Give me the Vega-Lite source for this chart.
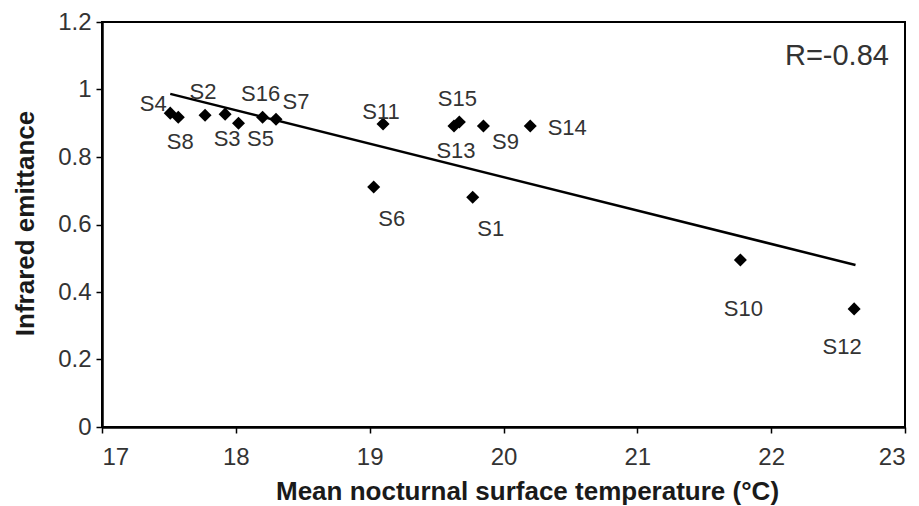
{
  "$schema": "https://vega.github.io/schema/vega-lite/v6.json",
  "autosize": {"type": "none"},
  "width": 803,
  "height": 405,
  "padding": {"left": 102, "top": 22, "right": 14, "bottom": 79},
  "background": "white",
  "config": {
    "font": "Liberation Sans",
    "view": {"stroke": "black", "strokeWidth": 2},
    "axis": {
      "grid": false,
      "domainColor": "black",
      "domainWidth": 2.5,
      "tickColor": "black",
      "tickWidth": 1.5,
      "tickSize": 6,
      "labelFont": "Liberation Sans",
      "labelFontSize": 24,
      "labelColor": "#333",
      "titleFont": "Liberation Sans",
      "titleFontSize": 26,
      "titleFontWeight": "bold",
      "titleColor": "#1a1a1a"
    }
  },
  "datasets": {
    "pts": [
      {"site": "S4", "temp": 17.51, "emit": 0.930},
      {"site": "S8", "temp": 17.57, "emit": 0.918},
      {"site": "S2", "temp": 17.77, "emit": 0.924},
      {"site": "S3", "temp": 17.92, "emit": 0.927},
      {"site": "S5", "temp": 18.02, "emit": 0.900},
      {"site": "S16", "temp": 18.20, "emit": 0.918},
      {"site": "S7", "temp": 18.30, "emit": 0.912},
      {"site": "S11", "temp": 19.10, "emit": 0.898},
      {"site": "S6", "temp": 19.03, "emit": 0.711},
      {"site": "S15", "temp": 19.67, "emit": 0.904},
      {"site": "S13", "temp": 19.63, "emit": 0.892},
      {"site": "S9", "temp": 19.85, "emit": 0.892},
      {"site": "S14", "temp": 20.20, "emit": 0.892},
      {"site": "S1", "temp": 19.77, "emit": 0.681},
      {"site": "S10", "temp": 21.77, "emit": 0.495},
      {"site": "S12", "temp": 22.62, "emit": 0.350}
    ],
    "fit": [
      {"temp": 17.51, "emit": 0.987},
      {"temp": 22.63, "emit": 0.480}
    ],
    "note": [
      {"temp": 22.88, "emit": 1.10, "text": "R=-0.84"}
    ]
  },
  "layer": [
    {
      "data": {"name": "fit"},
      "mark": {"type": "line", "color": "black", "strokeWidth": 2.5},
      "encoding": {
        "x": {"field": "temp", "type": "quantitative", "scale": {"domain": [17, 23], "nice": false, "zero": false},
              "axis": {"values": [17, 18, 19, 20, 21, 22, 23], "format": "~g", "title": "Mean nocturnal surface temperature (°C)", "titleX": 425, "titleY": 72, "titleBaseline": "alphabetic", "labelPadding": 12}},
        "y": {"field": "emit", "type": "quantitative", "scale": {"domain": [0, 1.2], "nice": false},
              "axis": {"values": [0, 0.2, 0.4, 0.6, 0.8, 1, 1.2], "format": "~g", "title": "Infrared emittance", "titleX": -69, "titleY": 201, "titleBaseline": "alphabetic", "labelPadding": 5}}
      }
    },
    {
      "data": {"name": "pts"},
      "mark": {"type": "point", "shape": "diamond", "filled": true, "color": "black", "opacity": 1, "size": 170},
      "encoding": {
        "x": {"field": "temp", "type": "quantitative"},
        "y": {"field": "emit", "type": "quantitative"}
      }
    },
    {
      "data": {"name": "pts"},
      "transform": [{"filter": {"field": "site", "oneOf": ["S2", "S16", "S15"]}}],
      "mark": {"type": "text", "fontSize": 22, "color": "#333", "dx": -2, "dy": -23},
      "encoding": {"x": {"field": "temp", "type": "quantitative"}, "y": {"field": "emit", "type": "quantitative"}, "text": {"field": "site"}}
    },
    {
      "data": {"name": "pts"},
      "transform": [{"filter": {"field": "site", "oneOf": ["S8", "S3", "S13"]}}],
      "mark": {"type": "text", "fontSize": 22, "color": "#333", "dx": 2, "dy": 25},
      "encoding": {"x": {"field": "temp", "type": "quantitative"}, "y": {"field": "emit", "type": "quantitative"}, "text": {"field": "site"}}
    },
    {
      "data": {"name": "pts"},
      "transform": [{"filter": {"field": "site", "oneOf": ["S5", "S9"]}}],
      "mark": {"type": "text", "fontSize": 22, "color": "#333", "dx": 22, "dy": 16},
      "encoding": {"x": {"field": "temp", "type": "quantitative"}, "y": {"field": "emit", "type": "quantitative"}, "text": {"field": "site"}}
    },
    {
      "data": {"name": "pts"},
      "transform": [{"filter": {"field": "site", "oneOf": ["S6", "S1"]}}],
      "mark": {"type": "text", "fontSize": 22, "color": "#333", "dx": 18, "dy": 32},
      "encoding": {"x": {"field": "temp", "type": "quantitative"}, "y": {"field": "emit", "type": "quantitative"}, "text": {"field": "site"}}
    },
    {
      "data": {"name": "pts"},
      "transform": [{"filter": {"field": "site", "equal": "S4"}}],
      "mark": {"type": "text", "fontSize": 22, "color": "#333", "dx": -17, "dy": -9},
      "encoding": {"x": {"field": "temp", "type": "quantitative"}, "y": {"field": "emit", "type": "quantitative"}, "text": {"field": "site"}}
    },
    {
      "data": {"name": "pts"},
      "transform": [{"filter": {"field": "site", "equal": "S7"}}],
      "mark": {"type": "text", "fontSize": 22, "color": "#333", "dx": 20, "dy": -17},
      "encoding": {"x": {"field": "temp", "type": "quantitative"}, "y": {"field": "emit", "type": "quantitative"}, "text": {"field": "site"}}
    },
    {
      "data": {"name": "pts"},
      "transform": [{"filter": {"field": "site", "equal": "S11"}}],
      "mark": {"type": "text", "fontSize": 22, "color": "#333", "dx": -2, "dy": -12},
      "encoding": {"x": {"field": "temp", "type": "quantitative"}, "y": {"field": "emit", "type": "quantitative"}, "text": {"field": "site"}}
    },
    {
      "data": {"name": "pts"},
      "transform": [{"filter": {"field": "site", "equal": "S14"}}],
      "mark": {"type": "text", "fontSize": 22, "color": "#333", "dx": 37, "dy": 2},
      "encoding": {"x": {"field": "temp", "type": "quantitative"}, "y": {"field": "emit", "type": "quantitative"}, "text": {"field": "site"}}
    },
    {
      "data": {"name": "pts"},
      "transform": [{"filter": {"field": "site", "equal": "S10"}}],
      "mark": {"type": "text", "fontSize": 22, "color": "#333", "dx": 3, "dy": 49},
      "encoding": {"x": {"field": "temp", "type": "quantitative"}, "y": {"field": "emit", "type": "quantitative"}, "text": {"field": "site"}}
    },
    {
      "data": {"name": "pts"},
      "transform": [{"filter": {"field": "site", "equal": "S12"}}],
      "mark": {"type": "text", "fontSize": 22, "color": "#333", "dx": -12, "dy": 38},
      "encoding": {"x": {"field": "temp", "type": "quantitative"}, "y": {"field": "emit", "type": "quantitative"}, "text": {"field": "site"}}
    },
    {
      "data": {"name": "note"},
      "mark": {"type": "text", "fontSize": 29, "color": "#333", "align": "right"},
      "encoding": {"x": {"field": "temp", "type": "quantitative"}, "y": {"field": "emit", "type": "quantitative"}, "text": {"field": "text"}}
    }
  ]
}
